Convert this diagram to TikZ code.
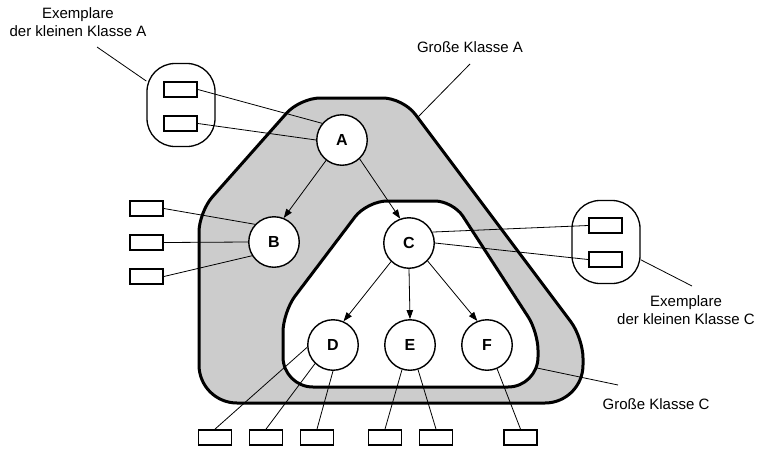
\documentclass[tikz,border=0pt]{standalone}
\usepackage{fontspec}
\setmainfont{Liberation Sans}
\usetikzlibrary{arrows.meta}

\begin{document}
\begin{tikzpicture}[x=1pt, y=-1pt,
  obj/.style={circle, draw, line width=1.4pt, fill=white, minimum size=50.5pt, inner sep=0pt, font=\fontsize{16}{18}\selectfont\bfseries},
  inst/.style={draw, line width=1.8pt, fill=white, minimum width=33pt, minimum height=15pt, inner sep=0pt},
  grp/.style={draw, line width=1.3pt, rounded corners=28pt, minimum width=68pt, minimum height=83pt},
  lbl/.style={align=center, inner sep=0pt, font=\fontsize{15}{17.5}\selectfont},
  link/.style={line width=0.8pt},
  arr/.style={line width=0.8pt, -{Triangle[length=9pt, width=6.5pt]}},
  region/.style={line width=3pt, line join=round}]
  \useasboundingbox (0,0) rectangle (757,448);
  % große Klasse A
  \draw[region, fill=black!20, rounded corners=20pt] (350,98) -- (403,98) -- (583,338)
    [rounded corners=38pt] -- (583,403) -- (199,403) [rounded corners=20pt] -- (199,212) -- (300,98) -- cycle;
  % große Klasse C
  \draw[region, fill=white, rounded corners=18pt] (410,201) -- (453,201) -- (538,332)
    [rounded corners=30pt] -- (538,387) -- (283,387) [rounded corners=20pt] -- (283,312) -- (367,201) -- cycle;
  % Exemplare der kleinen Klassen
  \node[grp] (ga) at (181,105) {};
  \node[grp] (gc) at (606,242) {};
  % Objekte
  \node[obj] (A) at (342,140) {A};
  \node[obj] (B) at (274,242) {B};
  \node[obj] (C) at (409,243) {C};
  \node[obj] (D) at (333,345) {D};
  \node[obj] (E) at (410,345) {E};
  \node[obj] (F) at (487,345) {F};
  % Exemplare
  \node[inst] (a1) at (180.5,89.5) {};
  \node[inst] (a2) at (180.5,123.5) {};
  \node[inst] (c1) at (605.5,225.5) {};
  \node[inst] (c2) at (605.5,259.5) {};
  \node[inst] (b1) at (146.5,208.5) {};
  \node[inst] (b2) at (146.5,242.5) {};
  \node[inst] (b3) at (146.5,276.5) {};
  \node[inst] (d1) at (215,437.5) {};
  \node[inst] (d2) at (266,437.5) {};
  \node[inst] (d3) at (317,437.5) {};
  \node[inst] (e1) at (385,437.5) {};
  \node[inst] (e2) at (436,437.5) {};
  \node[inst] (f1) at (520.5,437.5) {};
  % Verbindungen
  \draw[link] (a1.east) -- (A.140);
  \draw[link] (a2.east) -- (A.west);
  \draw[link] (b1.east) -- (B.137);
  \draw[link] (b2.east) -- (B.west);
  \draw[link] (b3.east) -- (B.212);
  \draw[link] (C.25) -- (c1.west);
  \draw[link] (C.east) -- (c2.west);
  \draw[link] (D.185) -- (d1.north);
  \draw[link] (D.226) -- (d2.north);
  \draw[link] (D.south) -- (d3.north);
  \draw[link] (E.252) -- (e1.north);
  \draw[link] (E.288) -- (e2.north);
  \draw[link] (F.293) -- (f1.north);
  % Vererbung
  \draw[arr] (A.232) -- (B.68);
  \draw[arr] (A.313) -- (C.110);
  \draw[arr] (C.226) -- (D.66);
  \draw[arr] (C.south) -- (E.north);
  \draw[arr] (C.316) -- (F.112);
  % Beschriftungen
  \node[lbl] (tA) at (78,22) {Exemplare\\der kleinen Klasse A};
  \node[lbl] (tKA) at (470,47) {Große Klasse A};
  \node[lbl] (tC) at (686,310) {Exemplare\\der kleinen Klasse C};
  \node[lbl] (tKC) at (656,404) {Große Klasse C};
  \coordinate (pA) at (97,47);
  \coordinate (pKA) at (470,64);
  \coordinate (qKA) at (418,117);
  \coordinate (pC) at (692,286);
  \coordinate (pKC) at (618,385);
  \coordinate (qKC) at (537,368);
  \draw[link] (pA) -- (ga);
  \draw[link] (pKA) -- (qKA);
  \draw[link] (gc) -- (pC);
  \draw[link] (pKC) -- (qKC);
\end{tikzpicture}
\end{document}
